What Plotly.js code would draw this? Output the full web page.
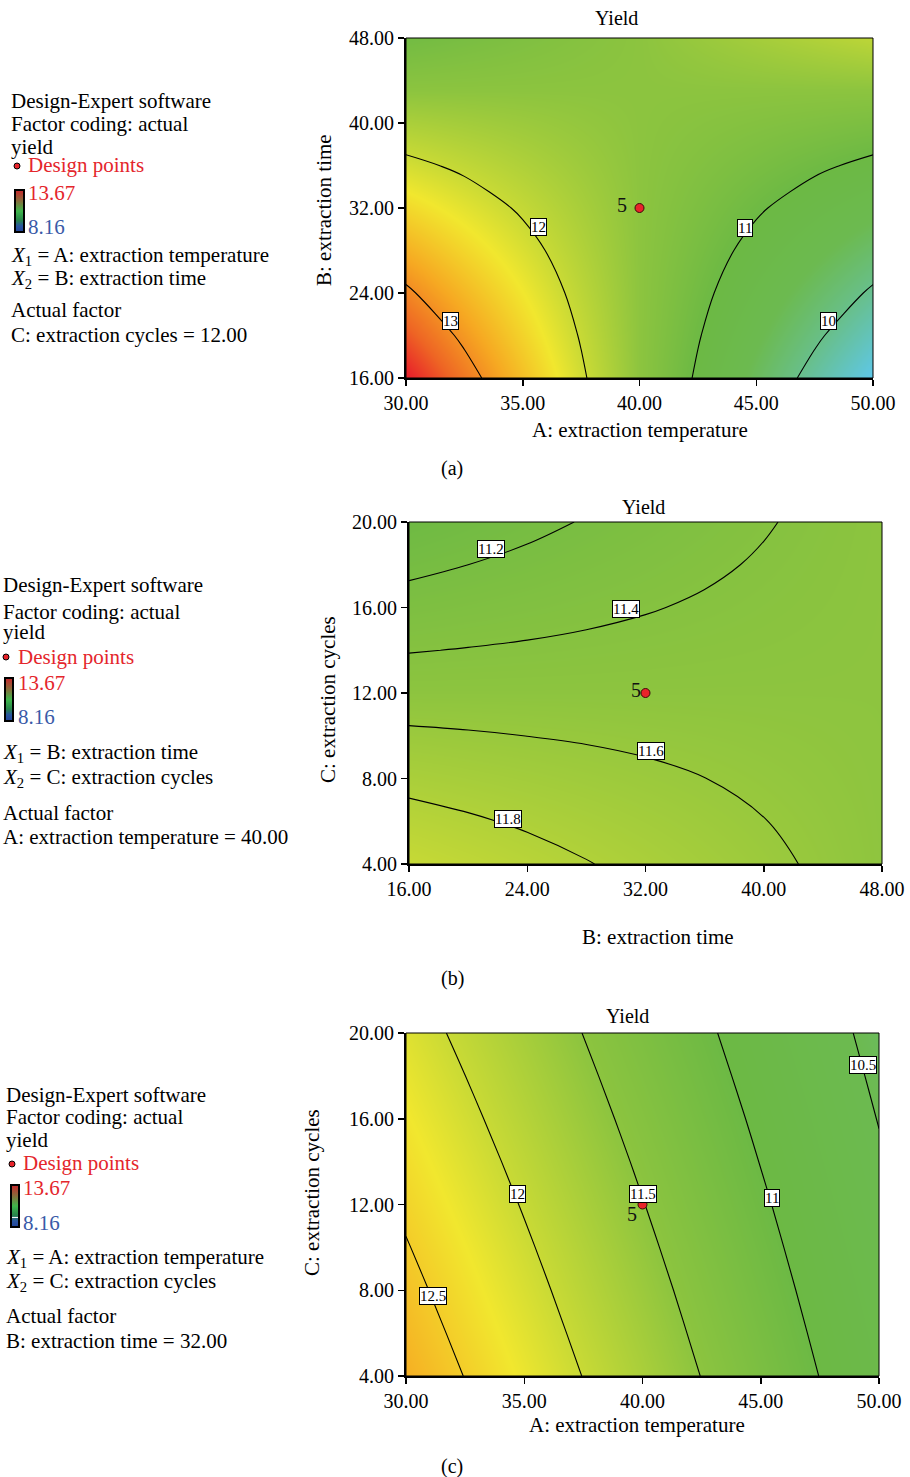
<!DOCTYPE html>
<html><head><meta charset="utf-8">
<script src="https://cdn.plot.ly/plotly-3.0.1.min.js"></script>
<style>html,body{margin:0;padding:0;background:#fff}#chart{width:910px;height:1477px}</style>
</head><body><div id="chart"></div>
<script>
// ---------------- DATA ----------------
const tempA   = [30, 32.5, 35, 37.5, 40, 42.5, 45, 47.5, 50];   // A: extraction temperature
const timeB   = [16, 20, 24, 28, 32, 36, 40, 44, 48];           // B: extraction time
const cyclesC = [4, 6, 8, 10, 12, 14, 16, 18, 20];              // C: extraction cycles

// (a) yield over A (columns) x B (rows), C = 12
const yieldAB = [
  [13.720, 13.165, 12.610, 12.055, 11.500, 10.945, 10.390, 9.835, 9.280],
  [13.393, 12.919, 12.446, 11.973, 11.500, 11.027, 10.554, 10.081, 9.608],
  [13.065, 12.674, 12.283, 11.891, 11.500, 11.109, 10.718, 10.326, 9.935],
  [12.738, 12.428, 12.119, 11.809, 11.500, 11.191, 10.881, 10.572, 10.263],
  [12.410, 12.183, 11.955, 11.728, 11.500, 11.273, 11.045, 10.818, 10.590],
  [12.083, 11.937, 11.791, 11.646, 11.500, 11.354, 11.209, 11.063, 10.918],
  [11.755, 11.691, 11.628, 11.564, 11.500, 11.436, 11.373, 11.309, 11.245],
  [11.428, 11.446, 11.464, 11.482, 11.500, 11.518, 11.536, 11.554, 11.573],
  [11.100, 11.200, 11.300, 11.400, 11.500, 11.600, 11.700, 11.800, 11.900]
];
// (b) yield over B (columns) x C (rows), A = 40
const yieldBC = [
  [11.982, 11.924, 11.866, 11.808, 11.750, 11.692, 11.634, 11.576, 11.518],
  [11.864, 11.821, 11.777, 11.734, 11.690, 11.647, 11.603, 11.560, 11.516],
  [11.746, 11.717, 11.688, 11.659, 11.630, 11.601, 11.572, 11.543, 11.514],
  [11.628, 11.614, 11.599, 11.585, 11.570, 11.556, 11.541, 11.527, 11.512],
  [11.510, 11.510, 11.510, 11.510, 11.510, 11.510, 11.510, 11.510, 11.510],
  [11.392, 11.407, 11.421, 11.436, 11.450, 11.465, 11.479, 11.494, 11.508],
  [11.274, 11.303, 11.332, 11.361, 11.390, 11.419, 11.448, 11.477, 11.506],
  [11.156, 11.200, 11.243, 11.287, 11.330, 11.374, 11.417, 11.461, 11.504],
  [11.038, 11.096, 11.154, 11.212, 11.270, 11.328, 11.386, 11.444, 11.502]
];
// (c) yield over A (columns) x C (rows), B = 32
const yieldAC = [
  [12.741, 12.492, 12.242, 11.993, 11.743, 11.494, 11.244, 10.995, 10.745],
  [12.667, 12.421, 12.176, 11.930, 11.685, 11.439, 11.194, 10.948, 10.703],
  [12.593, 12.351, 12.110, 11.868, 11.627, 11.385, 11.143, 10.902, 10.660],
  [12.519, 12.281, 12.044, 11.806, 11.568, 11.331, 11.093, 10.855, 10.618],
  [12.445, 12.211, 11.978, 11.744, 11.510, 11.276, 11.043, 10.809, 10.575],
  [12.371, 12.141, 11.912, 11.682, 11.452, 11.222, 10.992, 10.762, 10.533],
  [12.297, 12.071, 11.845, 11.619, 11.394, 11.168, 10.942, 10.716, 10.490],
  [12.223, 12.001, 11.779, 11.557, 11.335, 11.113, 10.891, 10.669, 10.447],
  [12.149, 11.931, 11.713, 11.495, 11.277, 11.059, 10.841, 10.623, 10.405]
];
const yieldMin = 8.16, yieldMax = 13.67;

const levelsAB = [10, 13, 1];
const levelsBC = [11.2, 11.8, 0.2];
const levelsAC = [10.5, 12.5, 0.5];

// contour label positions
const labAB_text = ['13', '12', '11', '10'];
const labAB_x    = [31.9, 35.66, 44.5, 48.1];
const labAB_y    = [21.4, 30.2, 30.1, 21.4];
const labBC_text = ['11.2', '11.4', '11.6', '11.8'];
const labBC_x    = [21.58, 30.66, 32.35, 22.7];
const labBC_y    = [18.72, 15.92, 9.30, 6.10];
const labAC_text = ['12.5', '12', '11.5', '11', '10.5'];
const labAC_x    = [31.15, 34.73, 40.03, 45.48, 49.34];
const labAC_y    = [7.73, 12.47, 12.5, 12.3, 18.52];

// design point (centre point, 5 replicates)
const designA = [40], designB = [32], designC = [12], designRuns = ['5'];

const ticksA = [30, 35, 40, 45, 50];
const ticksB = [16, 24, 32, 40, 48];
const ticksC = [4, 8, 12, 16, 20];

// ---------------- STYLE ----------------
const W = 910, H = 1477;
const FONT = 'Liberation Serif, Times New Roman, serif';
const fx = p => p / W, fy = p => 1 - p / H;
const zt = z => (z - yieldMin) / (yieldMax - yieldMin);
const colorscale = [
  [0, '#2f55a5'],
  [zt(9.3), '#5ec7e8'],
  [zt(10.0), '#68bf8a'],
  [zt(10.5), '#6cba50'],
  [zt(11.0), '#6cb944'],
  [zt(11.5), '#8cc43f'],
  [zt(12.0), '#c9da35'],
  [zt(12.28), '#f1e72e'],
  [zt(12.8), '#f6a822'],
  [zt(13.3), '#ee6524'],
  [1, '#e8232a']
];

const panels = [
  {x: tempA, y: timeB, z: yieldAB, lev: levelsAB, lt: labAB_text, lx: labAB_x, ly: labAB_y,
   dx: designA, dy: designB, sh: [-18, 3],
   xt: ticksA, yt: ticksB, dom: [406, 873, 38, 378]},
  {x: timeB, y: cyclesC, z: yieldBC, lev: levelsBC, lt: labBC_text, lx: labBC_x, ly: labBC_y,
   dx: designB, dy: designC, sh: [-10, 3],
   xt: ticksB, yt: ticksC, dom: [409, 882, 522, 864]},
  {x: tempA, y: cyclesC, z: yieldAC, lev: levelsAC, lt: labAC_text, lx: labAC_x, ly: labAC_y,
   dx: designA, dy: designC, sh: [-11, -9],
   xt: ticksA, yt: ticksC, dom: [406, 879, 1033, 1376]}
];

const traces = [], annotations = [], shapes = [], images = [];
const layout = {
  width: W, height: H, margin: {l: 0, r: 0, t: 0, b: 0},
  paper_bgcolor: '#fff', plot_bgcolor: '#fff', showlegend: false,
  font: {family: FONT, size: 20, color: '#000'}
};

panels.forEach((p, i) => {
  const n = i === 0 ? '' : String(i + 1);
  const xa = 'x' + n, ya = 'y' + n;
  traces.push({type: 'heatmap', x: p.x, y: p.y, z: p.z, zsmooth: 'best',
    colorscale: colorscale, zmin: yieldMin, zmax: yieldMax, showscale: false,
    xaxis: xa, yaxis: ya, hoverinfo: 'skip'});
  traces.push({type: 'contour', x: p.x, y: p.y, z: p.z, showscale: false,
    contours: {coloring: 'none', start: p.lev[0], end: p.lev[1] + 1e-6, size: p.lev[2], showlabels: false},
    line: {color: '#000', width: 1.1, smoothing: 1},
    xaxis: xa, yaxis: ya, hoverinfo: 'skip'});
  traces.push({type: 'scatter', mode: 'markers', x: p.dx, y: p.dy,
    marker: {color: '#e8232a', size: 9, line: {color: '#3a0a0a', width: 1}},
    xaxis: xa, yaxis: ya, hoverinfo: 'skip'});
  annotations.push({xref: xa, yref: ya, x: p.dx[0], y: p.dy[0], text: designRuns[0],
    showarrow: false, xshift: p.sh[0], yshift: p.sh[1],
    font: {family: FONT, size: 20, color: '#111'}});
  const ax = {
    showgrid: false, zeroline: false, showline: true, linecolor: '#000', linewidth: 2,
    ticks: 'outside', ticklen: 6, tickwidth: 1.5, tickcolor: '#000',
    tickfont: {family: FONT, size: 20, color: '#000'}, fixedrange: true
  };
  layout['xaxis' + n] = Object.assign({}, ax, {
    domain: [fx(p.dom[0]), fx(p.dom[1])], anchor: ya,
    range: [p.x[0], p.x[p.x.length - 1]],
    tickvals: p.xt, ticktext: p.xt.map(v => v.toFixed(2))
  });
  layout['yaxis' + n] = Object.assign({}, ax, {
    domain: [fy(p.dom[3]), fy(p.dom[2])], anchor: xa,
    range: [p.y[0], p.y[p.y.length - 1]],
    tickvals: p.yt, ticktext: p.yt.map(v => v.toFixed(2))
  });
  shapes.push({type: 'rect', xref: xa + ' domain', yref: ya + ' domain', x0: 0, x1: 1, y0: 0, y1: 1,
    line: {color: '#000', width: 1}});
  p.lt.forEach((t, k) => annotations.push({xref: xa, yref: ya, x: p.lx[k], y: p.ly[k], text: t,
    showarrow: false, bgcolor: '#fff', bordercolor: '#000', borderwidth: 1, borderpad: 0,
    font: {family: FONT, size: 15, color: '#000'}}));
});

function txt(x, y, text, opt) {
  annotations.push(Object.assign({xref: 'paper', yref: 'paper', x: fx(x), y: fy(y), text: text,
    showarrow: false, xanchor: 'left', yanchor: 'middle',
    font: {family: FONT, size: 21, color: '#000'}}, opt || {}));
}
function ctxt(x, y, text, size, angle) {
  txt(x, y, text, {xanchor: 'center', font: {family: FONT, size: size, color: '#000'}, textangle: angle || 0});
}

// titles, axis titles, captions
ctxt(616, 18, 'Yield', 20); ctxt(643, 507, 'Yield', 20); ctxt(627, 1016, 'Yield', 20);
ctxt(640, 430, 'A: extraction temperature', 21);
ctxt(324, 210, 'B: extraction time', 21, -90);
ctxt(658, 937, 'B: extraction time', 21);
ctxt(328, 700, 'C: extraction cycles', 21, -90);
ctxt(637, 1425, 'A: extraction temperature', 21);
ctxt(312, 1193, 'C: extraction cycles', 21, -90);
ctxt(452, 468, '(a)', 20); ctxt(452, 978, '(b)', 20); ctxt(452, 1466, '(c)', 20);

// side legends
const RED = '#e4262c', BLUE = '#3a5aa8';
const legends = [
  {x: 9, xc: 26, dot: [17, 166], cb: [14, 189, 11, 44], mark: false,
   ys: [101, 124, 147, 165, 193, 227, 256, 279, 310, 335],
   x1: 'A: extraction temperature', x2: 'B: extraction time', af: 'C: extraction cycles = 12.00'},
  {x: 1, xc: 16, dot: [6, 657], cb: [4, 677, 10, 45], mark: false,
   ys: [585, 612, 632, 657, 683, 717, 753, 778, 813, 837],
   x1: 'B: extraction time', x2: 'C: extraction cycles', af: 'A: extraction temperature = 40.00'},
  {x: 4, xc: 21, dot: [12, 1164], cb: [10, 1184, 10, 44], mark: true,
   ys: [1095, 1117, 1140, 1163, 1188, 1223, 1258, 1282, 1316, 1341],
   x1: 'A: extraction temperature', x2: 'C: extraction cycles', af: 'B: extraction time = 32.00'}
];
function cbar(w, h, mark) {
  const svg = `<svg xmlns="http://www.w3.org/2000/svg" width="${w}" height="${h}" viewBox="0 0 ${w} ${h}">` +
    `<defs><linearGradient id="g" x1="0" y1="0" x2="0" y2="1">` +
    `<stop offset="0" stop-color="#c8262c"/><stop offset="0.25" stop-color="#8a6a3a"/>` +
    `<stop offset="0.5" stop-color="#3fb54b"/><stop offset="0.72" stop-color="#27864a"/>` +
    `<stop offset="0.86" stop-color="#2a55a0"/><stop offset="1" stop-color="#22449a"/></linearGradient></defs>` +
    `<rect x="1" y="1" width="${w - 2}" height="${h - 2}" fill="url(#g)" stroke="#000" stroke-width="2"/>` +
    (mark ? `<line x1="2" x2="${w - 2}" y1="${h * 0.76}" y2="${h * 0.76}" stroke="#fff" stroke-width="1"/>` : '') +
    `</svg>`;
  return 'data:image/svg+xml;charset=utf-8,' + encodeURIComponent(svg);
}
legends.forEach(L => {
  txt(L.x, L.ys[0], 'Design-Expert software');
  txt(L.x, L.ys[1], 'Factor coding: actual');
  txt(L.x, L.ys[2], 'yield');
  txt(L.xc, L.ys[3], 'Design points', {font: {family: FONT, size: 21, color: RED}});
  txt(L.xc, L.ys[4], '13.67', {font: {family: FONT, size: 21, color: RED}});
  txt(L.xc, L.ys[5], '8.16', {font: {family: FONT, size: 21, color: BLUE}});
  txt(L.x, L.ys[6], '<i>X</i><sub>1</sub> = ' + L.x1);
  txt(L.x, L.ys[7], '<i>X</i><sub>2</sub> = ' + L.x2);
  txt(L.x, L.ys[8], 'Actual factor');
  txt(L.x, L.ys[9], L.af);
  shapes.push({type: 'circle', xref: 'paper', yref: 'paper',
    x0: fx(L.dot[0] - 3), x1: fx(L.dot[0] + 3), y0: fy(L.dot[1] + 3), y1: fy(L.dot[1] - 3),
    fillcolor: '#e8232a', line: {color: '#000', width: 1}});
  images.push({source: cbar(L.cb[2], L.cb[3], L.mark), xref: 'paper', yref: 'paper',
    x: fx(L.cb[0]), y: fy(L.cb[1]), sizex: L.cb[2] / W, sizey: L.cb[3] / H,
    xanchor: 'left', yanchor: 'top', sizing: 'stretch', layer: 'above'});
});

layout.annotations = annotations;
layout.shapes = shapes;
layout.images = images;

Plotly.newPlot('chart', traces, layout, {staticPlot: true, displayModeBar: false});
</script>
</body></html>
